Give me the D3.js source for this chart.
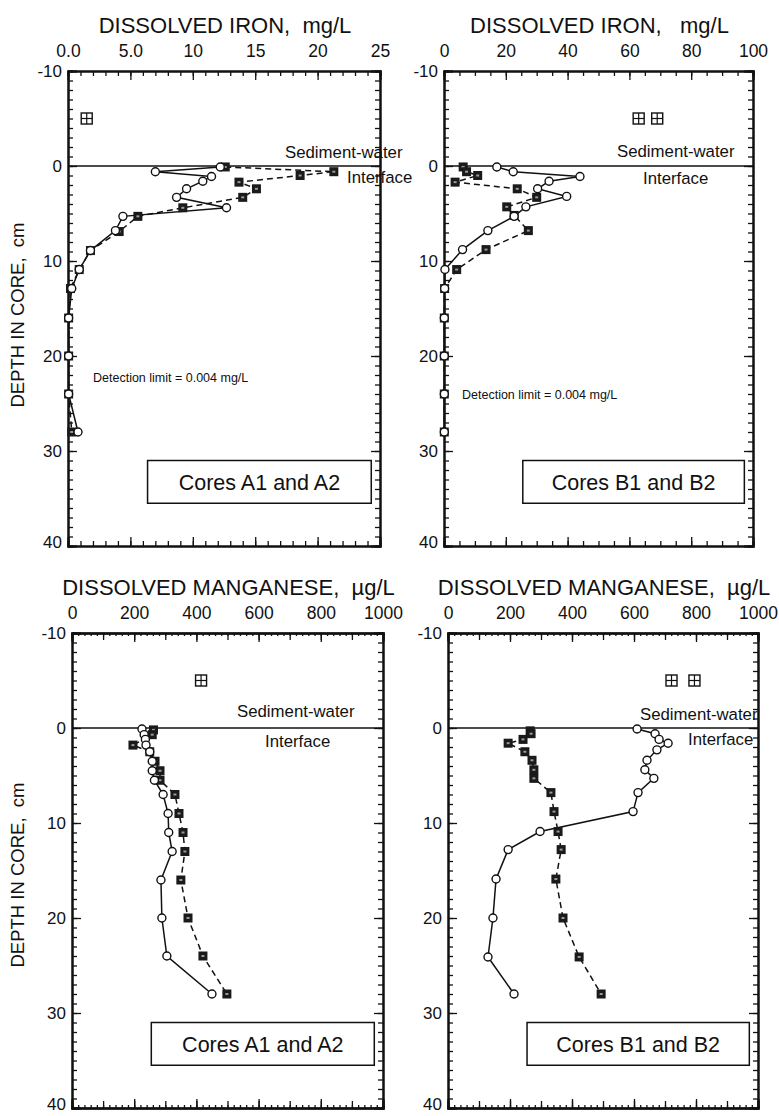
<!DOCTYPE html>
<html><head><meta charset="utf-8">
<script src="https://cdn.jsdelivr.net/npm/d3@7"></script>
<style>
body{margin:0;background:#fff}
text{font-family:"Liberation Sans",Arial,Helvetica,sans-serif;fill:#111}
</style>
</head><body>
<svg id="chart" width="779" height="1116"></svg>
<script>
// ---------- DATA ----------
const depthTicks = [-10, 0, 10, 20, 30, 40];
const depthLabels = ["-10", "0", "10", "20", "30", "40"];

// Dissolved iron, cores A1 (circles, solid) and A2 (squares, dashed), mg/L
const feA_xTicks = [0, 5, 10, 15, 20, 25];
const feA_xLabels = ["0.0", "5.0", "10", "15", "20", "25"];
const feA1_depth = [0.1, 0.6, 1.1, 1.6, 2.4, 3.3, 4.4, 5.3, 6.8, 8.9, 10.9, 12.9, 16, 20, 24, 28];
const feA1_value = [12.2, 7.0, 11.5, 10.8, 9.5, 8.7, 12.7, 4.4, 3.8, 1.8, 0.9, 0.3, 0.05, 0.05, 0.05, 0.8];
const feA2_depth = [0.1, 0.6, 1.0, 1.7, 2.4, 3.3, 4.4, 5.3, 6.9, 8.9, 10.9, 12.9, 16, 20, 24, 28];
const feA2_value = [12.6, 21.3, 18.6, 13.7, 15.1, 14.0, 9.2, 5.6, 4.1, 1.8, 0.9, 0.2, 0.05, 0.05, 0.05, 0.3];
const feA_overlying = [1.5];

// Dissolved iron, cores B1 (circles) and B2 (squares), mg/L
const feB_xTicks = [0, 20, 40, 60, 80, 100];
const feB_xLabels = ["0", "20", "40", "60", "80", "100"];
const feB1_depth = [0.1, 0.6, 1.1, 1.6, 2.4, 3.2, 4.3, 5.3, 6.8, 8.8, 10.9, 12.9, 16, 20, 24, 28];
const feB1_value = [17.1, 22.4, 44.0, 34.0, 30.3, 39.7, 26.5, 22.7, 14.2, 6.0, 0.3, 0.2, 0.1, 0.1, 0.1, 0.1];
const feB2_depth = [0.1, 0.6, 1.0, 1.7, 2.4, 3.3, 4.3, 5.2, 6.8, 8.8, 10.9, 12.9, 16, 20, 24, 28];
const feB2_value = [6.2, 7.3, 10.9, 3.6, 23.7, 30.0, 20.3, 22.7, 27.3, 13.6, 4.1, 0.2, 0.1, 0.1, 0.1, 0.1];
const feB_overlying = [63, 69];

// Dissolved manganese, cores A1 (circles) and A2 (squares), ug/L
const mn_xTicks = [0, 200, 400, 600, 800, 1000];
const mn_xLabels = ["0", "200", "400", "600", "800", "1000"];
const mnA1_depth = [0.1, 0.7, 1.2, 1.8, 2.5, 3.5, 4.5, 5.5, 7, 9, 11, 13, 16, 20, 24, 28];
const mnA1_value = [225, 232, 236, 238, 250, 258, 258, 265, 293, 309, 311, 322, 286, 289, 305, 450];
const mnA2_depth = [0.2, 0.7, 1.8, 2.5, 3.5, 4.5, 5.5, 7, 9, 11, 13, 16, 20, 24, 28];
const mnA2_value = [262, 258, 196, 250, 267, 283, 283, 331, 344, 357, 363, 350, 373, 421, 498];
const mnA_overlying = [415];

// Dissolved manganese, cores B1 (circles) and B2 (squares), ug/L
const mnB1_depth = [0.1, 0.6, 1.2, 1.6, 2.3, 3.4, 4.4, 5.3, 6.8, 8.8, 10.9, 12.8, 15.9, 20, 24.1, 28];
const mnB1_value = [610, 668, 681, 710, 674, 642, 635, 664, 613, 597, 297, 194, 155, 145, 129, 213];
const mnB2_depth = [0.3, 0.6, 1.2, 1.6, 2.5, 3.4, 4.4, 5.3, 6.8, 8.8, 10.9, 12.8, 15.9, 20, 24.1, 28];
const mnB2_value = [265, 268, 242, 194, 248, 271, 277, 277, 332, 342, 355, 365, 348, 371, 423, 494];
const mnB_overlying = [721, 795];

const titles = ["DISSOLVED IRON,  mg/L", "DISSOLVED IRON,   mg/L", "DISSOLVED MANGANESE,  \u00b5g/L", "DISSOLVED MANGANESE,  \u00b5g/L"];
const coreLabels = ["Cores A1 and A2", "Cores B1 and B2", "Cores A1 and A2", "Cores B1 and B2"];
const yTitle = "DEPTH IN CORE,  cm";
const detectionText = "Detection limit = 0.004 mg/L";
const interfaceText = ["Sediment-water", "Interface"];

// ---------- LAYOUT ----------
const svg = d3.select("#chart");
const zip = (d, v) => d.map((dd, i) => ({depth: dd, value: v[i]}));

const panels = [
  {x0: 68, x1: 380, y0: 71, y1: 546, dom: [0, 25], ticks: feA_xTicks, labels: feA_xLabels, minor: 1, mid: null,
   s1: zip(feA1_depth, feA1_value), s2: zip(feA2_depth, feA2_value), over: feA_overlying,
   title: titles[0], core: coreLabels[0], det: {x: 93, y: 382},
   sw: {x: 285, y: 158}, itf: {x: 347, y: 183}},
  {x0: 444, x1: 753, y0: 71, y1: 546, dom: [0, 100], ticks: feB_xTicks, labels: feB_xLabels, minor: 5, mid: null,
   s1: zip(feB1_depth, feB1_value), s2: zip(feB2_depth, feB2_value), over: feB_overlying,
   title: titles[1], core: coreLabels[1], det: {x: 462, y: 399},
   sw: {x: 617, y: 157}, itf: {x: 643, y: 184}},
  {x0: 72, x1: 383, y0: 633, y1: 1108, dom: [0, 1000], ticks: mn_xTicks, labels: mn_xLabels, minor: 20, mid: 100,
   s1: zip(mnA1_depth, mnA1_value), s2: zip(mnA2_depth, mnA2_value), over: mnA_overlying,
   title: titles[2], core: coreLabels[2], det: null,
   sw: {x: 237, y: 717}, itf: {x: 265, y: 747}},
  {x0: 448, x1: 758, y0: 633, y1: 1108, dom: [0, 1000], ticks: mn_xTicks, labels: mn_xLabels, minor: 20, mid: 100,
   s1: zip(mnB1_depth, mnB1_value), s2: zip(mnB2_depth, mnB2_value), over: mnB_overlying,
   title: titles[3], core: coreLabels[3], det: null,
   sw: {x: 640, y: 720}, itf: {x: 688, y: 745}}
];

panels.forEach((p, idx) => {
  const x = d3.scaleLinear().domain(p.dom).range([p.x0, p.x1]);
  const y = d3.scaleLinear().domain([-10, 40]).range([p.y0, p.y1]);
  const g = svg.append("g");

  // title
  g.append("text").attr("x", (p.x0 + p.x1) / 2 + 1).attr("y", p.y0 - 38)
    .attr("text-anchor", "middle").attr("font-size", 22).style("white-space", "pre").text(p.title);

  const minorVals = d3.range(p.dom[0], p.dom[1] + 1e-9, p.minor);
  const depthMinor = d3.range(-10, 40.001, 1);

  // top axis
  const topAx = g.append("g").attr("transform", `translate(0,${p.y0})`)
    .call(d3.axisTop(x).tickValues(p.ticks).tickFormat((d, i) => p.labels[i]).tickSize(-9).tickPadding(14));
  topAx.selectAll("text").attr("font-size", 17.5).attr("fill", "#111");
  g.append("g").attr("transform", `translate(0,${p.y0})`)
    .call(d3.axisTop(x).tickValues(minorVals).tickFormat("").tickSize(p.mid ? -3 : -5));
  if (p.mid) g.append("g").attr("transform", `translate(0,${p.y0})`)
    .call(d3.axisTop(x).tickValues(d3.range(p.dom[0], p.dom[1] + 1, p.mid)).tickFormat("").tickSize(-7));

  // bottom axis
  g.append("g").attr("transform", `translate(0,${p.y1})`)
    .call(d3.axisBottom(x).tickValues(p.ticks).tickFormat("").tickSize(-9));
  g.append("g").attr("transform", `translate(0,${p.y1})`)
    .call(d3.axisBottom(x).tickValues(minorVals).tickFormat("").tickSize(p.mid ? -3 : -5));
  if (p.mid) g.append("g").attr("transform", `translate(0,${p.y1})`)
    .call(d3.axisBottom(x).tickValues(d3.range(p.dom[0], p.dom[1] + 1, p.mid)).tickFormat("").tickSize(-7));

  // left axis
  const leftAx = g.append("g").attr("transform", `translate(${p.x0},0)`)
    .call(d3.axisLeft(y).tickValues(depthTicks).tickFormat((d, i) => depthLabels[i]).tickSize(-9).tickPadding(6));
  leftAx.selectAll("text").attr("font-size", 17).attr("fill", "#111");
  // keep the bottom "40" label inside the page
  leftAx.selectAll(".tick").filter(d => d === 40).select("text").attr("dy", "0.1em");
  g.append("g").attr("transform", `translate(${p.x0},0)`)
    .call(d3.axisLeft(y).tickValues(depthMinor).tickFormat("").tickSize(-5));

  // right axis
  g.append("g").attr("transform", `translate(${p.x1},0)`)
    .call(d3.axisRight(y).tickValues(depthTicks).tickFormat("").tickSize(-9));
  g.append("g").attr("transform", `translate(${p.x1},0)`)
    .call(d3.axisRight(y).tickValues(depthMinor).tickFormat("").tickSize(-5));

  g.selectAll(".domain").attr("stroke", "#111").attr("stroke-width", 2);
  g.selectAll(".tick line").attr("stroke", "#111").attr("stroke-width", 1.3);

  // sediment-water interface line
  g.append("line").attr("x1", p.x0).attr("x2", p.x1).attr("y1", y(0)).attr("y2", y(0))
    .attr("stroke", "#111").attr("stroke-width", 1.6);

  // labels
  g.append("text").attr("x", p.sw.x).attr("y", p.sw.y).attr("font-size", 16.8).text(interfaceText[0]);
  g.append("text").attr("x", p.itf.x).attr("y", p.itf.y).attr("font-size", 16.8).text(interfaceText[1]);
  if (p.det) g.append("text").attr("x", p.det.x).attr("y", p.det.y).attr("font-size", 12.5).text(detectionText);

  // cores box
  const bx0 = x(p.dom[0] + 0.255 * (p.dom[1] - p.dom[0]));
  const bx1 = x(p.dom[0] + 0.972 * (p.dom[1] - p.dom[0]));
  const by0 = y(31), by1 = y(35.5);
  g.append("rect").attr("x", bx0).attr("y", by0).attr("width", bx1 - bx0).attr("height", by1 - by0)
    .attr("fill", "#fff").attr("stroke", "#111").attr("stroke-width", 1.5);
  g.append("text").attr("x", (bx0 + bx1) / 2).attr("y", (by0 + by1) / 2 + 8)
    .attr("text-anchor", "middle").attr("font-size", 21.5).text(p.core);

  // overlying water symbols (grid squares)
  p.over.forEach(v => {
    const cx = x(v), cy = y(-5), s = 11;
    g.append("rect").attr("x", cx - s / 2).attr("y", cy - s / 2).attr("width", s).attr("height", s)
      .attr("fill", "#fff").attr("stroke", "#111").attr("stroke-width", 1.4);
    g.append("line").attr("x1", cx - s / 2).attr("x2", cx + s / 2).attr("y1", cy).attr("y2", cy).attr("stroke", "#111").attr("stroke-width", 1.2);
    g.append("line").attr("x1", cx).attr("x2", cx).attr("y1", cy - s / 2).attr("y2", cy + s / 2).attr("stroke", "#111").attr("stroke-width", 1.2);
  });

  // series lines
  const line = d3.line().x(d => x(d.value)).y(d => y(d.depth));
  g.append("path").datum(p.s2).attr("d", line).attr("fill", "none").attr("stroke", "#111")
    .attr("stroke-width", 1.5).attr("stroke-dasharray", "6,4");
  g.append("path").datum(p.s1).attr("d", line).attr("fill", "none").attr("stroke", "#111")
    .attr("stroke-width", 1.5);

  // square markers (A2/B2)
  const sq = g.selectAll(".sq").data(p.s2).enter().append("g")
    .attr("transform", d => `translate(${x(d.value)},${y(d.depth)})`);
  sq.append("rect").attr("x", -4.5).attr("y", -4.5).attr("width", 9).attr("height", 9).attr("fill", "#1a1a1a");
  sq.append("rect").attr("x", -1.5).attr("y", -1).attr("width", 3).attr("height", 2).attr("fill", "#999");

  // circle markers (A1/B1)
  g.selectAll(".ci").data(p.s1).enter().append("circle")
    .attr("cx", d => x(d.value)).attr("cy", d => y(d.depth)).attr("r", 4)
    .attr("fill", "#fff").attr("stroke", "#111").attr("stroke-width", 1.4);
});

// y-axis titles
[315, 875].forEach(cy => {
  svg.append("text").attr("transform", `translate(24,${cy}) rotate(-90)`)
    .attr("text-anchor", "middle").attr("font-size", 18.5).style("white-space", "pre").text(yTitle);
});
</script>
</body></html>
